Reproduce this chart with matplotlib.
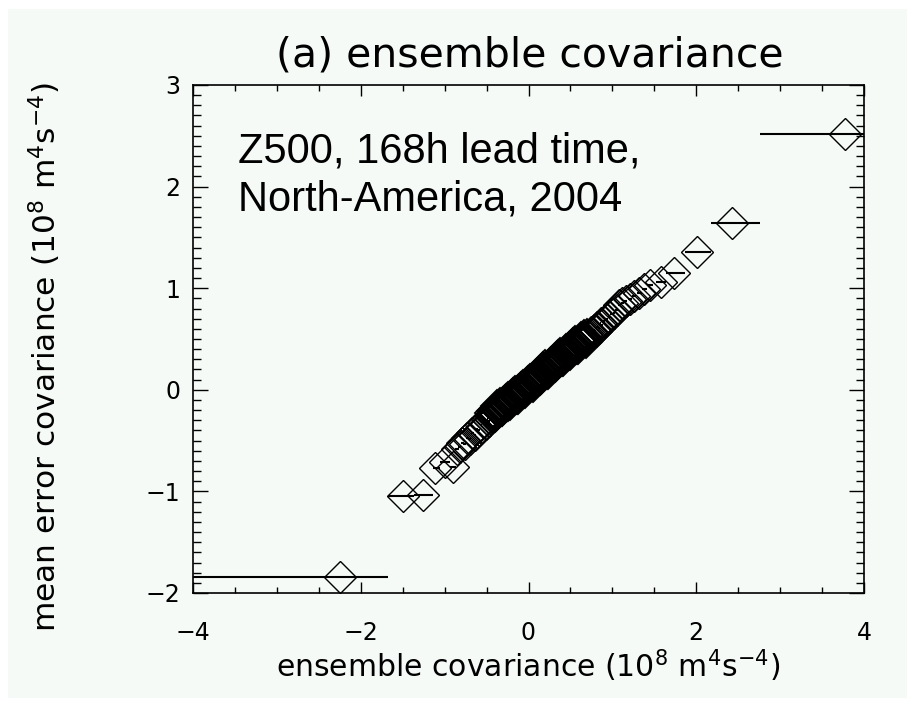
import numpy as np
import matplotlib.pyplot as plt
from matplotlib.ticker import MultipleLocator
from matplotlib.patches import Rectangle

# outer bins: bin mean, mean error covariance, bin edges
wide_x = [-2.25, -1.50, -1.26, -1.12, -0.99, -0.90, 1.58, 1.74, 2.01, 2.43, 3.77]
wide_y = [-1.84, -1.05, -1.04, -0.77, -0.71, -0.76, 1.06, 1.15, 1.36, 1.64, 2.52]
wide_lo = [-4.60, -1.68, -1.37, -1.14, -1.05, -0.94, 1.52, 1.64, 1.87, 2.17, 2.76]
wide_hi = [-1.68, -1.37, -1.14, -1.05, -0.94, -0.87, 1.64, 1.87, 2.17, 2.76, 4.80]

# medium-density bins on both sides of the core
band_x = [-0.85, -0.82, -0.79, -0.76, -0.73, -0.70, -0.67, -0.64, -0.62, -0.59,
          -0.57, -0.55, -0.53, -0.51, -0.49, -0.47,
          0.72, 0.74, 0.76, 0.78, 0.80, 0.82, 0.84, 0.86, 0.88, 0.90,
          0.93, 0.96, 0.99, 1.02, 1.05, 1.08, 1.12, 1.16, 1.21, 1.26,
          1.32, 1.38, 1.45]
band_y = [-0.58, -0.56, -0.52, -0.53, -0.47, -0.48, -0.43, -0.44, -0.39, -0.40,
          -0.35, -0.37, -0.32, -0.34, -0.29, -0.31,
          0.54, 0.57, 0.55, 0.59, 0.58, 0.62, 0.61, 0.66, 0.64, 0.68,
          0.70, 0.72, 0.75, 0.76, 0.79, 0.83, 0.85, 0.87, 0.89, 0.92,
          0.95, 0.99, 1.03]
band_hw = [0.025, 0.02, 0.02, 0.02, 0.015, 0.015, 0.015, 0.015, 0.012, 0.012,
           0.01, 0.01, 0.01, 0.01, 0.01, 0.01,
           0.01, 0.01, 0.01, 0.01, 0.01, 0.01, 0.01, 0.01, 0.01, 0.012,
           0.015, 0.015, 0.015, 0.015, 0.015, 0.018, 0.02, 0.02, 0.025, 0.025,
           0.03, 0.03, 0.035]

# dense core (bins narrower than the marker)
core_x = [-0.45, -0.44, -0.43, -0.42, -0.41, -0.40, -0.39, -0.38, -0.37, -0.36,
          -0.35, -0.34, -0.33, -0.32, -0.31, -0.30, -0.29, -0.28, -0.27, -0.26,
          -0.25, -0.24, -0.23, -0.22, -0.21, -0.20, -0.19, -0.18, -0.17, -0.16,
          -0.15, -0.14, -0.13, -0.12, -0.11, -0.10, -0.09, -0.08, -0.07, -0.06,
          -0.05, -0.04, -0.03, -0.02, -0.01, 0.00, 0.01, 0.02, 0.03, 0.04,
          0.05, 0.06, 0.07, 0.08, 0.09, 0.10, 0.11, 0.12, 0.13, 0.14,
          0.15, 0.16, 0.17, 0.18, 0.19, 0.20, 0.21, 0.22, 0.23, 0.24,
          0.25, 0.26, 0.27, 0.28, 0.29, 0.30, 0.31, 0.32, 0.33, 0.34,
          0.35, 0.36, 0.37, 0.38, 0.39, 0.40, 0.41, 0.42, 0.43, 0.44,
          0.45, 0.46, 0.47, 0.48, 0.49, 0.50, 0.51, 0.52, 0.53, 0.54,
          0.55, 0.56, 0.57, 0.58, 0.59, 0.60, 0.61, 0.62, 0.63, 0.64,
          0.65, 0.66, 0.67, 0.68, 0.69, 0.70]
core_y = [-0.23, -0.27, -0.26, -0.21, -0.22, -0.26, -0.25, -0.20, -0.16, -0.21,
          -0.20, -0.14, -0.15, -0.20, -0.20, -0.13, -0.15, -0.14, -0.10, -0.15,
          -0.15, -0.08, -0.10, -0.14, -0.11, -0.08, -0.04, -0.08, -0.08, -0.02,
          -0.03, -0.08, -0.08, -0.01, -0.02, -0.02, 0.02, -0.02, -0.02, 0.04,
          0.02, -0.02, 0.00, 0.05, 0.08, 0.04, 0.05, 0.10, 0.09, 0.05,
          0.04, 0.11, 0.11, 0.10, 0.14, 0.10, 0.11, 0.16, 0.14, 0.11,
          0.12, 0.17, 0.21, 0.16, 0.17, 0.23, 0.21, 0.17, 0.17, 0.23,
          0.23, 0.23, 0.26, 0.22, 0.23, 0.28, 0.26, 0.23, 0.24, 0.29,
          0.33, 0.28, 0.29, 0.35, 0.34, 0.29, 0.29, 0.36, 0.35, 0.35,
          0.39, 0.34, 0.35, 0.41, 0.38, 0.35, 0.37, 0.41, 0.45, 0.41,
          0.41, 0.47, 0.46, 0.41, 0.41, 0.48, 0.48, 0.47, 0.51, 0.47,
          0.47, 0.53, 0.51, 0.47, 0.49, 0.54]

bg = "#f5faf7"
plt.rcParams['font.family'] = ['DejaVu Sans']
plt.rcParams['mathtext.fontset'] = 'dejavusans'

W, H = 915, 707
fig = plt.figure(figsize=(W / 100, H / 100), dpi=100, facecolor="white")
fig.patches.append(Rectangle((8 / W, 9 / H), (W - 16) / W, (H - 18) / H,
                             transform=fig.transFigure, facecolor=bg,
                             edgecolor="none", zorder=-10))

ax = fig.add_axes([193 / W, 1 - 593 / H, (864 - 193) / W, (593 - 85) / H])
ax.set_facecolor(bg)

wx = np.array(wide_x)
ax.errorbar(wx, wide_y, xerr=[wx - np.array(wide_lo), np.array(wide_hi) - wx],
            fmt="none", ecolor="black", elinewidth=1.5, capsize=0)
ax.errorbar(band_x, band_y, xerr=band_hw, fmt="none", ecolor="black",
            elinewidth=1.5, capsize=0)

mk = dict(marker="D", ms=16, mfc="none", mec="black", mew=1.0, ls="none")
ax.plot(core_x, core_y, **dict(mk, mew=1.4))
ax.plot(band_x, band_y, **mk)
ax.plot(wide_x, wide_y, **mk)

ax.set_xlim(-4, 4)
ax.set_ylim(-2, 3)
ax.xaxis.set_major_locator(MultipleLocator(2))
ax.xaxis.set_minor_locator(MultipleLocator(0.5))
ax.yaxis.set_major_locator(MultipleLocator(1))
ax.yaxis.set_minor_locator(MultipleLocator(0.1))
ax.tick_params(which="both", direction="in", top=True, right=True, width=1.0,
               colors="black", labelsize=17)
ax.tick_params(axis="x", which="major", length=8, pad=20)
ax.tick_params(axis="x", which="minor", length=4)
ax.tick_params(axis="y", which="major", length=11, pad=9)
ax.tick_params(axis="y", which="minor", length=5.5)
for s in ax.spines.values():
    s.set_linewidth(1.2)

ax.set_xlabel(r"ensemble covariance (10$^8$ m$^4$s$^{-4}$)", fontsize=21.5,
              labelpad=2)
fig.text(45 / W, 1 - 357 / H, r"mean error covariance (10$^8$ m$^4$s$^{-4}$)",
         rotation=90, ha="center", va="center", fontsize=22.5)
fig.text(530 / W, 1 - 67 / H, "(a) ensemble covariance", ha="center",
         va="baseline", fontsize=29.5)

fig.text(238 / W, 1 - 163 / H, "Z500, 168h lead time,", ha="left",
         va="baseline", fontsize=30, family="Liberation Sans")
fig.text(238 / W, 1 - 211 / H, "North-America, 2004", ha="left",
         va="baseline", fontsize=30, family="Liberation Sans")

fig.savefig("out.png", dpi=100, facecolor="white")
